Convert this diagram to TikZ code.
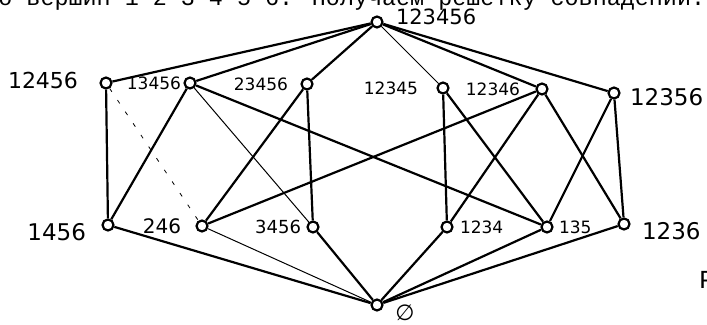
\documentclass[tikz,border=0pt]{standalone}
\usepackage{fontspec}
\newfontfamily\handfont{DejaVu Sans}
\newfontfamily\typefont{Liberation Mono}
\usepackage{tikz}
\usetikzlibrary{positioning,calc}
\tikzset{VERTEX/.style={circle,draw,line width=1.1pt,fill=white,inner sep=0pt,minimum size=5.5pt}}
\tikzset{NUMBER/.style={inner sep=0pt,font=\handfont\fontsize{#1}{#1}\selectfont}}
\tikzset{EDGE/.style={line width=1.1pt}}
\tikzset{FAINT/.style={line width=0.5pt}}
\tikzset{BROKEN/.style={line width=0.4pt,dash pattern=on 2pt off 5pt}}
\tikzset{TYPED/.style={inner sep=0pt,anchor=base west,font=\typefont\fontsize{11.7}{11.7}\selectfont}}
\begin{document}
\begin{tikzpicture}[x=0.5pt,y=-0.5pt]
\useasboundingbox (0,0) rectangle (707,325);

% scanned text cut by the page edge
\begin{scope}
\clip (0,0) rectangle (707,325);
\node[TYPED] (t_caption) at (-2,6) {о вершин 1 2 3 4 5 6. Получаем решетку совпадений.};
\node[TYPED, font=\typefont\fontsize{13}{13}\selectfont] (t_fig) at (699,289) {Р};
\end{scope}

\node[VERTEX] (n_top) at (377,22) {};

\node[VERTEX] (n_12456) at (106,83) {};
\node[VERTEX] (n_13456) at (190,83) {};
\node[VERTEX] (n_23456) at (307,84) {};
\node[VERTEX] (n_12345) at (443,88) {};
\node[VERTEX] (n_12346) at (542,89) {};
\node[VERTEX] (n_12356) at (614,93) {};

\node[VERTEX] (n_1456) at (108,225) {};
\node[VERTEX] (n_246) at (202,226) {};
\node[VERTEX] (n_3456) at (313,227) {};
\node[VERTEX] (n_1234) at (447,227) {};
\node[VERTEX] (n_135) at (547,227) {};
\node[VERTEX] (n_1236) at (624,224) {};

\node[VERTEX] (n_empty) at (377,305) {};

% labels
\node[NUMBER=10.5, right=6pt of n_top, yshift=2.5pt] (t_top) {123456};
\node[NUMBER=11, left=10.5pt of n_12456, yshift=1.5pt] (t_12456) {12456};
\node[NUMBER=8.5, left=1pt of n_13456] (t_13456) {13456};
\node[NUMBER=8.5, left=6pt of n_23456] (t_23456) {23456};
\node[NUMBER=8.5, left=9pt of n_12345] (t_12345) {12345};
\node[NUMBER=8.5, left=7.5pt of n_12346] (t_12346) {12346};
\node[NUMBER=11.5, right=4.5pt of n_12356, yshift=-2pt] (t_12356) {12356};
\node[NUMBER=11.5, left=7.5pt of n_1456, yshift=-3.5pt] (t_1456) {1456};
\node[NUMBER=10, left=7pt of n_246] (t_246) {246};
\node[NUMBER=9, left=2.5pt of n_3456] (t_3456) {3456};
\node[NUMBER=8.5, right=3pt of n_1234] (t_1234) {1234};
\node[NUMBER=8.5, right=2.5pt of n_135] (t_135) {135};
\node[NUMBER=11.5, right=5.5pt of n_1236, yshift=-3.5pt] (t_1236) {1236};
\node[NUMBER=11] (t_empty) at ($(n_empty)+(28,8)$) {∅};

% top to second row
\draw[EDGE] (n_top) -- (n_12456);
\draw[EDGE] (n_top) -- (n_13456);
\draw[EDGE] (n_top) -- (n_23456);
\draw[FAINT] (n_top) -- (n_12345);
\draw[EDGE] (n_top) -- (n_12346);
\draw[EDGE] (n_top) -- (n_12356);

% second row to third row
\draw[EDGE] (n_12456) -- (n_1456);
\draw[BROKEN] (n_12456) -- (n_246);
\draw[EDGE] (n_13456) -- (n_1456);
\draw[FAINT] (n_13456) -- (n_3456);
\draw[EDGE] (n_13456) -- (n_135);
\draw[EDGE] (n_23456) -- (n_246);
\draw[EDGE] (n_23456) -- (n_3456);
\draw[EDGE] (n_12345) -- (n_1234);
\draw[EDGE] (n_12345) -- (n_135);
\draw[EDGE] (n_12346) -- (n_246);
\draw[EDGE] (n_12346) -- (n_1234);
\draw[EDGE] (n_12346) -- (n_1236);
\draw[EDGE] (n_12356) -- (n_135);
\draw[EDGE] (n_12356) -- (n_1236);

% third row to bottom
\draw[EDGE] (n_1456) -- (n_empty);
\draw[FAINT] (n_246) -- (n_empty);
\draw[EDGE] (n_3456) -- (n_empty);
\draw[EDGE] (n_1234) -- (n_empty);
\draw[EDGE] (n_135) -- (n_empty);
\draw[EDGE] (n_1236) -- (n_empty);

\end{tikzpicture}
\end{document}
